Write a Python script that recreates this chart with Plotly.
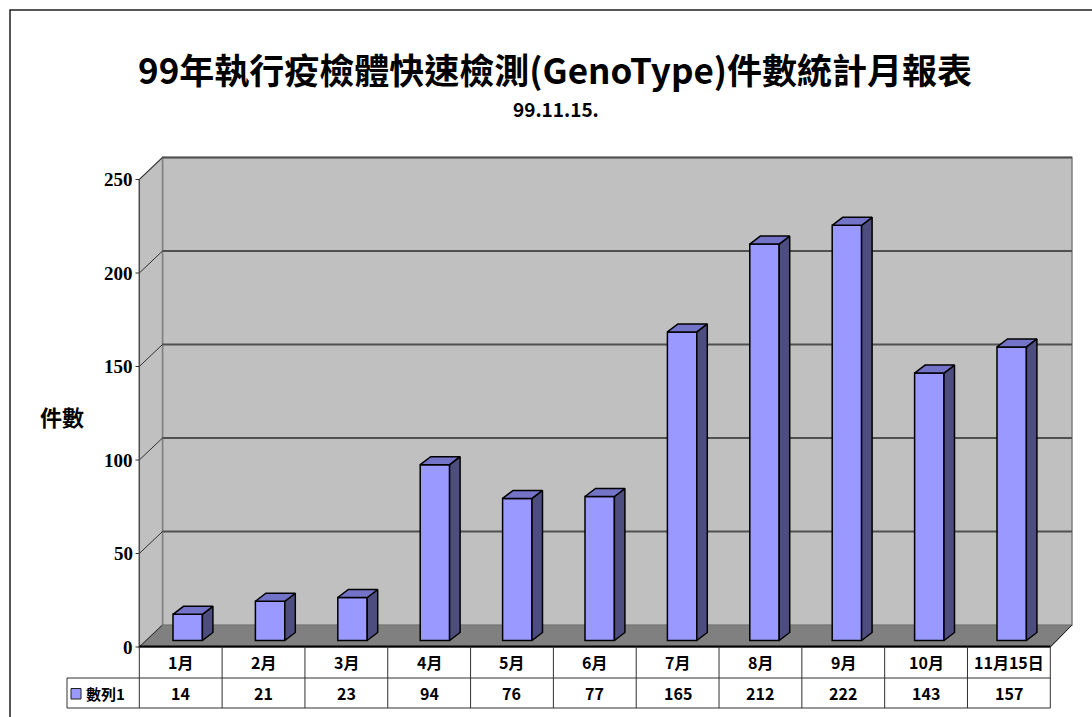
import plotly.graph_objects as go

# ---------------- data ----------------
categories = ["1月", "2月", "3月", "4月", "5月", "6月", "7月", "8月", "9月", "10月", "11月15日"]
values = [14, 21, 23, 94, 76, 77, 165, 212, 222, 143, 157]
series_name = "數列1"
y_ticks = [0, 50, 100, 150, 200, 250]
title_text = "99年執行疫檢體快速檢測(GenoType)件數統計月報表"
subtitle_text = "99.11.15."
y_title = "件數"

# ---------------- geometry (pixel layout of the reference) ----------------
W, H = 1092, 717
CAT_PX = 82.4          # px per category (bars)
VAL_PX = 1.87          # px per value unit
X0_PX = 187.7          # px of category 0 centre (bar plane)
Y0_PX = 640.5          # px of value 0 (bar plane)

def X(px):
    return (px - X0_PX) / CAT_PX

def Y(px):
    return (Y0_PX - px) / VAL_PX

xr = [X(0), X(W)]
yr = [Y(H), Y(0)]

# walls in pixel terms
FL_PX, FR_PX = 139.3, 1050.3      # front left / right
BL_PX, BR_PX = 162.5, 1072.0      # back left / right
FY = -6.5 / VAL_PX                # front plane vertical shift
BY = 15.5 / VAL_PX                # back plane vertical shift
DX, DY = 10.5 / CAT_PX, 8.0 / VAL_PX   # bar depth
BW = 29.4 / CAT_PX                # bar width
TAB_PX = (FR_PX - FL_PX)          # table width
n = len(categories)
idx = list(range(n))
YMAX = y_ticks[-1]
FL, FR, BL, BR = X(FL_PX), X(FR_PX), X(BL_PX), X(BR_PX)

fig = go.Figure()

# bar side faces and top faces
sx, sy, tx, ty = [], [], [], []
for i, v in zip(idx, values):
    a, b = i - BW / 2, i + BW / 2
    tx += [a, b, b + DX, a + DX, a, None]
    ty += [v, v, v + DY, v + DY, v, None]
    sx += [b, b, b + DX, b + DX, b, None]
    sy += [0, v, v + DY, DY, 0, None]

fig.add_trace(go.Scatter(x=sx, y=sy, mode="lines", fill="toself",
                         fillcolor="#4d4d80", line=dict(color="black", width=1.5),
                         hoverinfo="skip", showlegend=False))
fig.add_trace(go.Scatter(x=tx, y=ty, mode="lines", fill="toself",
                         fillcolor="#7373c8", line=dict(color="black", width=1.5),
                         hoverinfo="skip", showlegend=False))
fig.add_trace(go.Bar(x=idx, y=values, width=BW, name=series_name,
                     marker=dict(color="#9999ff", line=dict(color="black", width=1.5)),
                     showlegend=False))

shapes = []
# floor
shapes.append(dict(type="path", layer="below",
                   path=f"M {FL},{FY} L {FR},{FY} L {BR},{BY} L {BL},{BY} Z",
                   fillcolor="#808080", line=dict(color="#404040", width=1)))
# back wall
shapes.append(dict(type="rect", layer="below", x0=BL, x1=BR, y0=BY, y1=YMAX + BY,
                   fillcolor="#c0c0c0", line=dict(color="#808080", width=1.5)))
# side wall
shapes.append(dict(type="path", layer="below",
                   path=f"M {FL},{FY} L {FL},{YMAX+FY} L {BL},{YMAX+BY} L {BL},{BY} Z",
                   fillcolor="#c0c0c0", line=dict(color="#808080", width=1.5)))
# gridlines
for t in y_ticks[1:]:
    shapes.append(dict(type="line", layer="below", x0=BL, x1=BR, y0=t + BY, y1=t + BY,
                       line=dict(color="#505050", width=2)))
for t in y_ticks:
    shapes.append(dict(type="line", layer="below", x0=FL, x1=BL, y0=t + FY, y1=t + BY,
                       line=dict(color="#303030", width=1)))
    shapes.append(dict(type="line", layer="below", x0=X(135.5), x1=FL, y0=t + FY, y1=t + FY,
                       line=dict(color="#303030", width=1)))
# axis line (front left edge)
shapes.append(dict(type="line", x0=FL, x1=FL, y0=FY, y1=YMAX + FY,
                   line=dict(color="#404040", width=1)))
# floor right edge
shapes.append(dict(type="line", x0=FR, x1=BR, y0=FY, y1=BY,
                   line=dict(color="#202020", width=1)))

# data table
ROW0, ROW1, ROW2 = 646.5, 678, 708
LEG_L = 67
tab_col = "#303030"
def colx(k):
    return X(FL_PX + TAB_PX * k / n)

shapes.append(dict(type="line", x0=FL, x1=FR, y0=Y(ROW0), y1=Y(ROW0),
                   line=dict(color="black", width=2)))
for yy in (ROW1, ROW2):
    shapes.append(dict(type="line", x0=X(LEG_L), x1=FR, y0=Y(yy), y1=Y(yy),
                       line=dict(color=tab_col, width=1)))
for k in range(n + 1):
    shapes.append(dict(type="line", x0=colx(k), x1=colx(k), y0=Y(ROW0), y1=Y(ROW2),
                       line=dict(color=tab_col, width=1)))
shapes.append(dict(type="line", x0=X(LEG_L), x1=X(LEG_L), y0=Y(ROW1), y1=Y(ROW2),
                   line=dict(color=tab_col, width=1)))
# legend key
shapes.append(dict(type="rect", x0=X(71), x1=X(81), y0=Y(688.5), y1=Y(699),
                   fillcolor="#9999ff", line=dict(color="#202020", width=1)))
# outer chart border
shapes.append(dict(type="rect", xref="paper", yref="paper",
                   x0=10 / W, x1=1.02, y0=1 - 10 / H, y1=-0.05,
                   fillcolor="rgba(0,0,0,0)", line=dict(color="#202020", width=1.5)))

annotations = []
cjk = "Noto Sans CJK TC"
for i, (c, v) in enumerate(zip(categories, values)):
    cx = colx(i + 0.5)
    annotations.append(dict(x=cx, y=Y((ROW0 + ROW1) / 2), text=f"<b>{c}</b>", showarrow=False,
                            font=dict(family=cjk, size=16, color="black", weight="bold")))
    annotations.append(dict(x=cx, y=Y((ROW1 + ROW2) / 2), text=f"<b>{v}</b>", showarrow=False,
                            font=dict(family=cjk, size=16, color="black", weight="bold")))
annotations.append(dict(x=X(84), y=Y((ROW1 + ROW2) / 2), text=f"<b>{series_name}</b>", showarrow=False,
                        xanchor="left", font=dict(family=cjk, size=15, color="black", weight="bold")))
for t in y_ticks:
    annotations.append(dict(x=X(135), y=t + FY, text=f"<b>{t}</b>", showarrow=False, xanchor="right",
                            font=dict(family="Liberation Serif", size=19, color="black", weight="bold")))
annotations.append(dict(x=X(62), y=Y(416), text=f"<b>{y_title}</b>", showarrow=False,
                        font=dict(family=cjk, size=22, color="black", weight="bold")))
annotations.append(dict(x=X(555), y=Y(68), text=f"<b>{title_text}</b>", showarrow=False,
                        font=dict(family=cjk, size=35, color="black", weight="bold")))
annotations.append(dict(x=X(556), y=Y(108), text=f"<b>{subtitle_text}</b>", showarrow=False,
                        font=dict(family=cjk, size=19, color="black", weight="bold")))

fig.update_layout(
    width=W, height=H, margin=dict(l=0, r=0, t=0, b=0),
    paper_bgcolor="white", plot_bgcolor="white",
    xaxis=dict(range=xr, visible=False, fixedrange=True),
    yaxis=dict(range=yr, visible=False, fixedrange=True),
    shapes=shapes, annotations=annotations, showlegend=False,
)

fig.write_html("out.html")
